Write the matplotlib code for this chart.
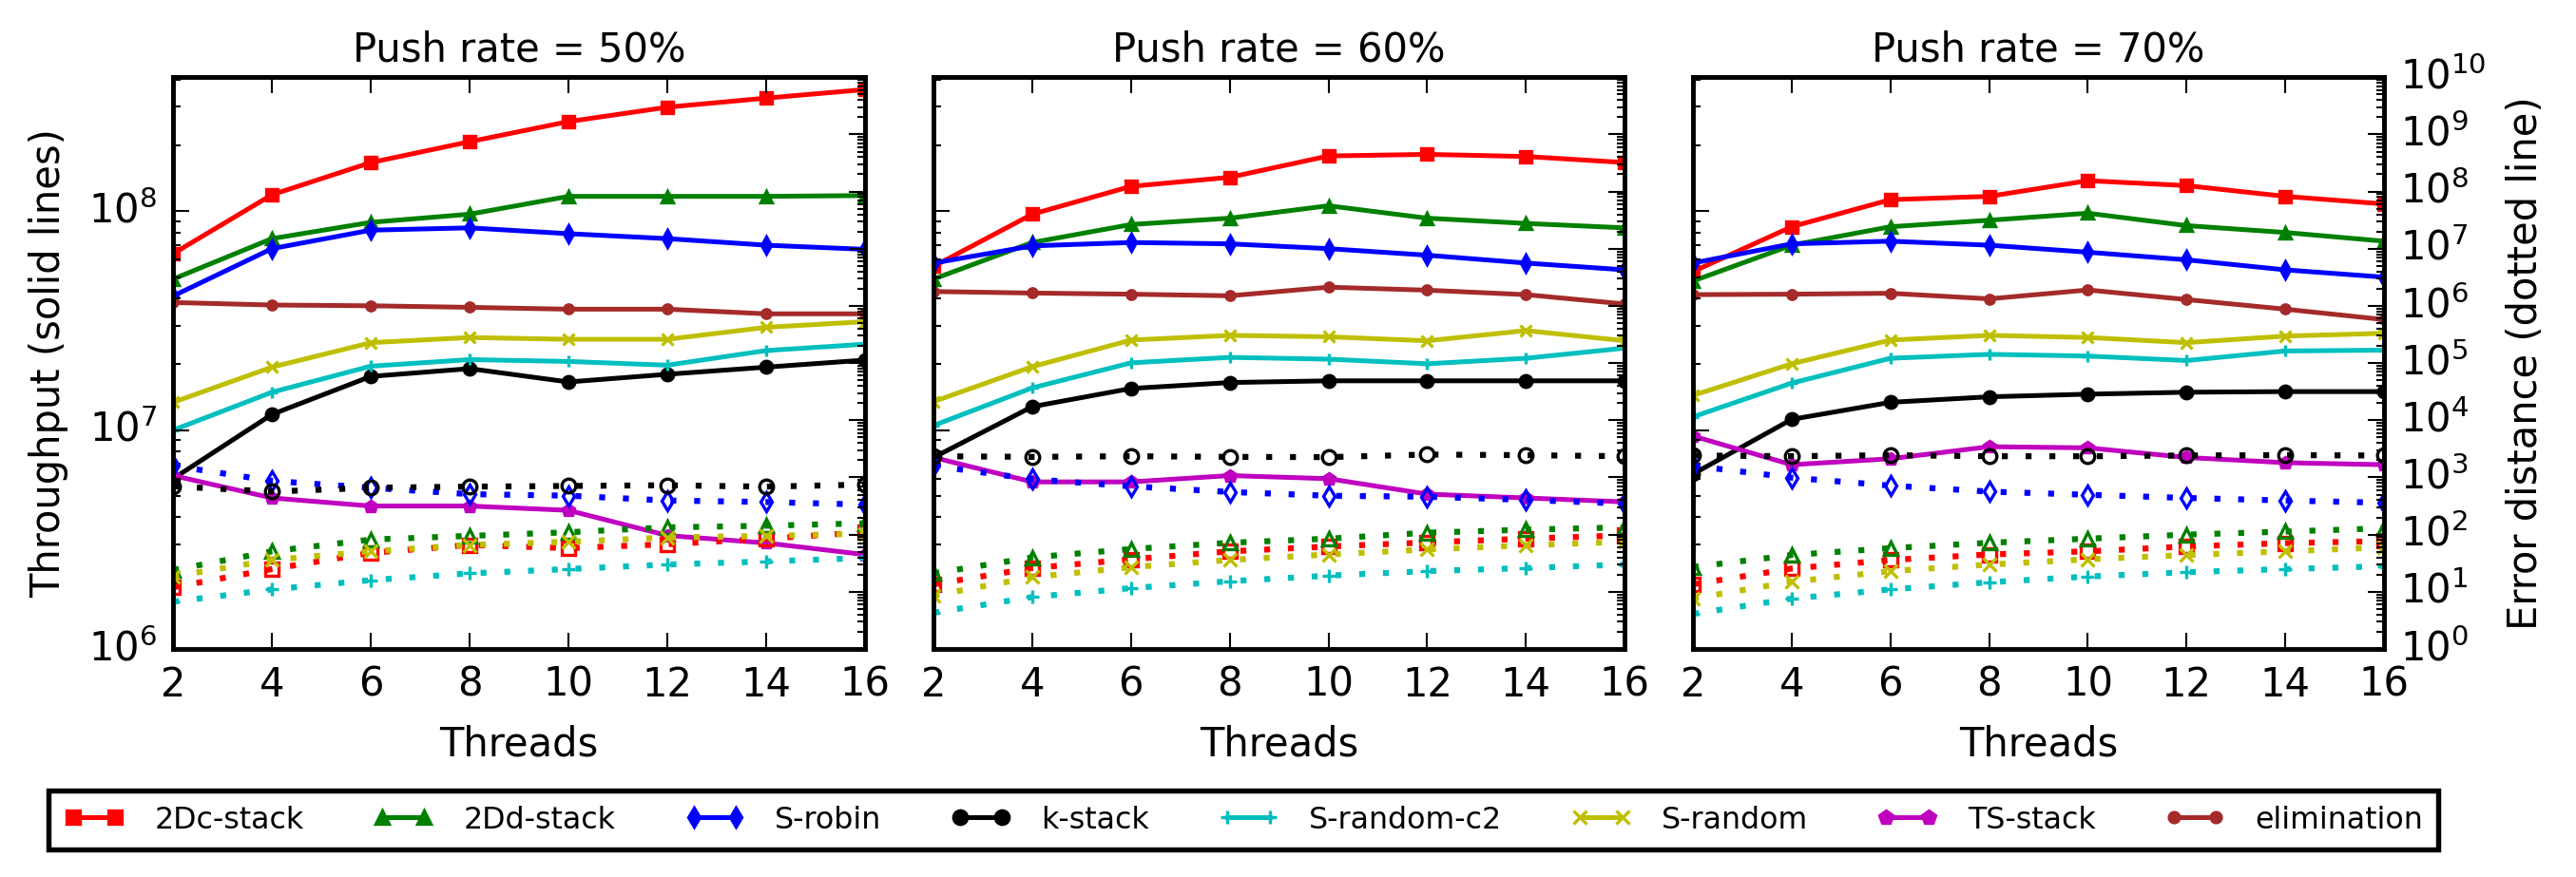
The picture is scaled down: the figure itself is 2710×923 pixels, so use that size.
import matplotlib
matplotlib.use("Agg")
import matplotlib.pyplot as plt
from matplotlib.ticker import LogLocator

plt.style.use("classic")
plt.rcParams.update({
    "font.size": 10,
    "font.family": ["DejaVu Sans"],
    "figure.facecolor": "white",
    "savefig.facecolor": "white",
    "lines.scale_dashes": True,
})

threads = [2, 4, 6, 8, 10, 12, 14, 16]
push_rates = ["50%", "60%", "70%"]

algs = ["2Dc-stack", "2Dd-stack", "S-robin", "k-stack",
        "S-random-c2", "S-random", "TS-stack", "elimination"]
colors = ["r", "g", "b", "k", "c", "y", "m", "brown"]
markers = ["s", "^", "d", "o", "+", "x", "p", "."]

# throughput (ops/s), solid lines, left axis
thr_50 = {
    "2Dc-stack":   [6.4e7, 1.19e8, 1.67e8, 2.08e8, 2.57e8, 2.99e8, 3.29e8, 3.6e8],
    "2Dd-stack":   [4.9e7, 7.5e7, 8.9e7, 9.7e7, 1.17e8, 1.17e8, 1.17e8, 1.18e8],
    "S-robin":     [4.1e7, 6.75e7, 8.2e7, 8.4e7, 7.9e7, 7.5e7, 7.0e7, 6.7e7],
    "k-stack":     [6.0e6, 1.18e7, 1.76e7, 1.91e7, 1.66e7, 1.8e7, 1.94e7, 2.09e7],
    "S-random-c2": [1.0e7, 1.49e7, 1.96e7, 2.1e7, 2.06e7, 1.98e7, 2.31e7, 2.47e7],
    "S-random":    [1.34e7, 1.94e7, 2.51e7, 2.65e7, 2.6e7, 2.6e7, 2.95e7, 3.13e7],
    "TS-stack":    [6.2e6, 4.9e6, 4.5e6, 4.5e6, 4.3e6, 3.3e6, 3.05e6, 2.7e6],
    "elimination": [3.83e7, 3.73e7, 3.7e7, 3.64e7, 3.57e7, 3.57e7, 3.4e7, 3.4e7],
}
thr_60 = {
    "2Dc-stack":   [5.6e7, 9.7e7, 1.3e8, 1.43e8, 1.79e8, 1.82e8, 1.78e8, 1.67e8],
    "2Dd-stack":   [4.9e7, 7.2e7, 8.7e7, 9.3e7, 1.06e8, 9.3e7, 8.8e7, 8.4e7],
    "S-robin":     [5.8e7, 6.95e7, 7.2e7, 7.1e7, 6.75e7, 6.3e7, 5.8e7, 5.4e7],
    "k-stack":     [7.5e6, 1.28e7, 1.55e7, 1.65e7, 1.68e7, 1.68e7, 1.68e7, 1.68e7],
    "S-random-c2": [1.05e7, 1.56e7, 2.03e7, 2.15e7, 2.11e7, 2.01e7, 2.13e7, 2.37e7],
    "S-random":    [1.35e7, 1.95e7, 2.58e7, 2.71e7, 2.67e7, 2.56e7, 2.85e7, 2.56e7],
    "TS-stack":    [7.5e6, 5.8e6, 5.8e6, 6.2e6, 6.0e6, 5.1e6, 4.9e6, 4.7e6],
    "elimination": [4.3e7, 4.23e7, 4.18e7, 4.11e7, 4.5e7, 4.36e7, 4.16e7, 3.77e7],
}
thr_70 = {
    "2Dc-stack":   [5.3e7, 8.5e7, 1.13e8, 1.17e8, 1.38e8, 1.31e8, 1.17e8, 1.08e8],
    "2Dd-stack":   [4.8e7, 7.0e7, 8.5e7, 9.1e7, 9.8e7, 8.6e7, 8.0e7, 7.3e7],
    "S-robin":     [5.8e7, 7.1e7, 7.3e7, 7.0e7, 6.5e7, 6.0e7, 5.4e7, 5.0e7],
    "k-stack":     [6.3e6, 1.12e7, 1.34e7, 1.42e7, 1.46e7, 1.49e7, 1.5e7, 1.5e7],
    "S-random-c2": [1.15e7, 1.64e7, 2.13e7, 2.22e7, 2.18e7, 2.08e7, 2.3e7, 2.32e7],
    "S-random":    [1.44e7, 2.01e7, 2.58e7, 2.71e7, 2.65e7, 2.51e7, 2.69e7, 2.77e7],
    "TS-stack":    [9.4e6, 6.95e6, 7.4e6, 8.4e6, 8.3e6, 7.5e6, 7.1e6, 6.95e6],
    "elimination": [4.16e7, 4.18e7, 4.22e7, 3.98e7, 4.37e7, 3.95e7, 3.57e7, 3.2e7],
}

# error distance, dotted lines, right axis
err_50 = {
    "2Dc-stack":   [12, 25, 48, 66, 58, 68, 85, 110],
    "2Dd-stack":   [24, 51, 82, 95, 110, 134, 143, 158],
    "S-robin":     [1600, 870, 660, 510, 480, 395, 372, 335],
    "k-stack":     [700, 565, 660, 690, 710, 730, 690, 750],
    "S-random-c2": [6.7, 11, 16, 21, 25, 30, 34, 39],
    "S-random":    [18.5, 36, 51, 66, 75, 89, 95, 104],
}
err_60 = {
    "2Dc-stack":   [13.5, 26, 37, 51, 62, 73, 85, 97],
    "2Dd-stack":   [21, 40, 56, 72, 85, 108, 122, 134],
    "S-robin":     [1600, 930, 700, 557, 478, 460, 405, 348],
    "k-stack":     [2350, 2290, 2350, 2290, 2265, 2515, 2450, 2350],
    "S-random-c2": [4.3, 8.1, 11.6, 15.3, 19.2, 23, 26, 30],
    "S-random":    [8.6, 18, 27, 36, 45, 55, 65, 75],
}
err_70 = {
    "2Dc-stack":   [13.5, 25.5, 36, 45, 51, 62, 71, 77],
    "2Dd-stack":   [27, 44, 58, 72, 85, 100, 113, 129],
    "S-robin":     [1600, 990, 720, 565, 497, 438, 395, 361],
    "k-stack":     [2420, 2350, 2450, 2350, 2350, 2420, 2450, 2420],
    "S-random-c2": [4.1, 7.6, 11, 14.7, 18.5, 22, 25, 28],
    "S-random":    [7.6, 15, 23, 30, 37, 44, 51, 60],
}

thr_all = [thr_50, thr_60, thr_70]
err_all = [err_50, err_60, err_70]

fig = plt.figure(figsize=(2710 / 300, 923 / 300), dpi=300)

# axes rects in figure fraction
rects = [
    (0.0672, 0.260, 0.2686, 0.652),
    (0.3624, 0.260, 0.2683, 0.652),
    (0.6572, 0.260, 0.2683, 0.652),
]

handles = []
for i, rect in enumerate(rects):
    ax = fig.add_axes(rect)
    for alg, c, m in zip(algs, colors, markers):
        ms = 4.5 if m == "." else 3
        ln, = ax.plot(threads, thr_all[i][alg], color=c, marker=m, ms=ms,
                      mec=c, mew=0.8, lw=1.2, label=alg)
        if i == 0:
            handles.append(ln)
    ax.set_yscale("log")
    ax.set_ylim(1e6, 4.1e8)
    ax.set_xlim(2, 16)
    ax.set_xticks(threads)
    ax.set_xlabel("Threads", labelpad=5)
    ax.set_title("Push rate = " + push_rates[i], fontsize=10, pad=4)
    for sp in ax.spines.values():
        sp.set_linewidth(1.1)
    if i == 0:
        ax.set_ylabel("Throughput (solid lines)")
    else:
        ax.tick_params(labelleft=False)

    ax2 = ax.twinx()
    for alg, c, m in zip(algs, colors, markers):
        if alg not in err_all[i]:
            continue
        ax2.plot(threads, err_all[i][alg], color=c, ls=(0, (1, 3)), lw=1.5,
                 marker=m, ms=3.5, mfc="none", mec=c, mew=0.8)
    ax2.set_yscale("log")
    ax2.set_ylim(1, 1e10)
    ax2.yaxis.set_major_locator(LogLocator(base=10, numticks=15))
    ax2.set_xlim(2, 16)
    for sp in ax2.spines.values():
        sp.set_linewidth(1.1)
    if i == 2:
        ax2.set_ylabel("Error distance (dotted line)")
    else:
        ax2.tick_params(labelright=False)

leg = fig.legend(handles, algs, loc="center", bbox_to_anchor=(0.4827, 0.065),
                 ncol=8, fontsize=7.6, numpoints=2, handlelength=2.0,
                 columnspacing=2.3, handletextpad=1.0, markerscale=1.15,
                 borderpad=0.5)
leg.get_frame().set_linewidth(1.3)
leg.get_frame().set_edgecolor("black")

fig.savefig("out.png", dpi=300)
